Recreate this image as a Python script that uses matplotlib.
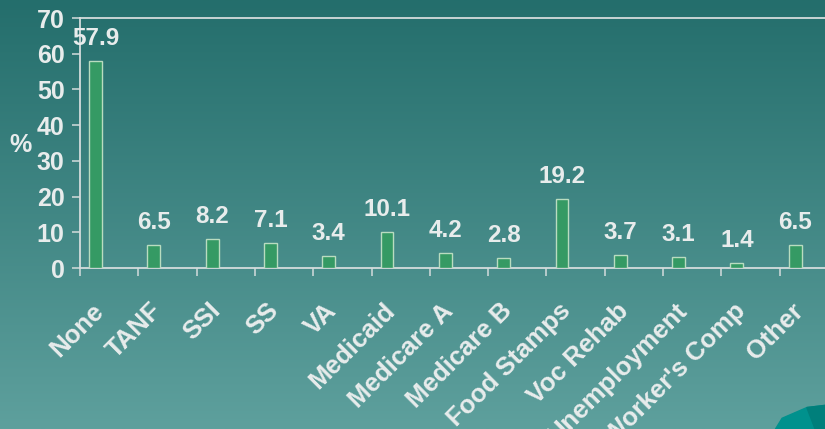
import numpy as np
import matplotlib.pyplot as plt
import matplotlib.transforms as mtransforms
from matplotlib.patches import Polygon

categories = ["None", "TANF", "SSI", "SS", "VA", "Medicaid", "Medicare A",
              "Medicare B", "Food Stamps", "Voc Rehab", "Unemployment",
              "Worker's Comp", "Other"]
values = [57.9, 6.5, 8.2, 7.1, 3.4, 10.1, 4.2, 2.8, 19.2, 3.7, 3.1, 1.4, 6.5]
yticks = [0, 10, 20, 30, 40, 50, 60, 70]

txt = "#e8ecec"
line = "#d4dcdc"
plt.rcParams['font.family'] = ['Liberation Sans', 'DejaVu Sans']
plt.rcParams['font.weight'] = 'bold'

fig = plt.figure(figsize=(8.25, 4.29), dpi=100)

# background gradient (dark teal at top, lighter at bottom)
bg = fig.add_axes([0, 0, 1, 1], zorder=-10)
grad = np.linspace(0, 1, 256).reshape(-1, 1)
top = np.array([36, 110, 108]) / 255
bot = np.array([94, 160, 157]) / 255
img = top + (bot - top) * grad[..., None]
bg.imshow(img.reshape(256, 1, 3), aspect='auto', extent=[0, 1, 0, 1])
bg.add_patch(Polygon([[0.94, 0], [0.948, 0.025], [0.978, 0.05], [1, 0.055], [1, 0]],
                     closed=True, color="#00918d"))
bg.add_patch(Polygon([[0.978, 0.05], [1, 0.055], [1, 0], [0.988, 0]],
                     closed=True, color="#007f7b"))
bg.set_xlim(0, 1)
bg.set_ylim(0, 1)
bg.axis('off')

ax = fig.add_axes([80 / 825, 1 - 268 / 429, 758 / 825, 250 / 429])
ax.patch.set_alpha(0)
x = np.arange(len(categories))
bars = ax.bar(x, values, width=0.22, color="#359a64", edgecolor="#b9dcc0",
              linewidth=1.0, zorder=3)

for xi, v in zip(x, values):
    ax.annotate(f"{v}", (xi, v), xytext=(0, 8), textcoords="offset points",
                ha="center", va="bottom", fontsize=17.5, color=txt,
                fontweight="bold")

ax.set_xlim(-0.266, len(categories) - 0.266)
ax.set_ylim(0, 70)
ax.set_yticks(yticks)
ax.set_yticklabels([str(t) for t in yticks], fontsize=18, color=txt,
                   fontweight="bold")
ax.tick_params(axis='y', length=6, width=1.1, color=line, pad=5)

ax.set_xticks(x)
ax.set_xticklabels(categories, rotation=45, ha="right", va="top",
                   rotation_mode="anchor", fontsize=18.5, color=txt,
                   fontweight="bold")
ax.tick_params(axis='x', which='major', length=0, pad=22)
ax.set_xticks(x - 0.266, minor=True)
ax.tick_params(axis='x', which='minor', length=6, width=1.1, color=line,
               direction='out')
offset = mtransforms.ScaledTranslation(-4 / 100, 0, fig.dpi_scale_trans)
for lab in ax.get_xticklabels():
    lab.set_transform(lab.get_transform() + offset)

ax.spines["right"].set_visible(False)
for s in ["left", "bottom", "top"]:
    ax.spines[s].set_color(line)
    ax.spines[s].set_linewidth(1.3)

fig.text(20 / 825, 1 - 145 / 429, "%", fontsize=18, color=txt,
         fontweight="bold", ha="center", va="center")

fig.savefig("out.png", dpi=100)
